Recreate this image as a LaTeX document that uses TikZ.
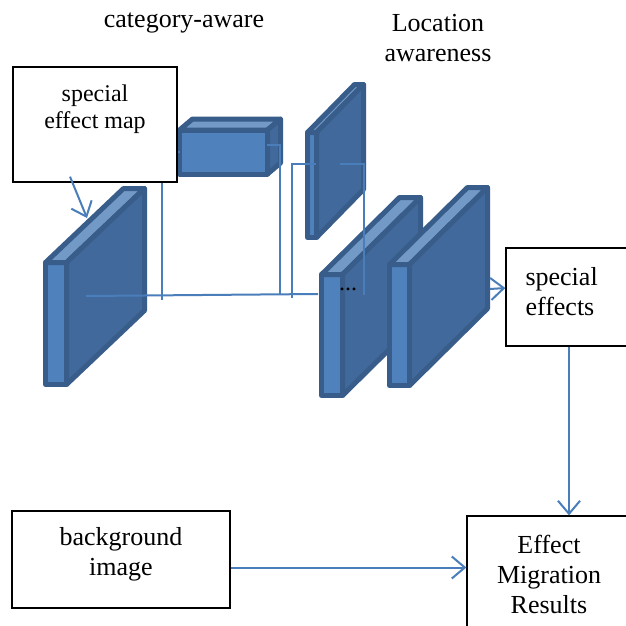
\documentclass[tikz,border=0pt]{standalone}
\usepackage{fontspec}
\setmainfont{Liberation Serif}
\usetikzlibrary{arrows.meta}

\definecolor{slabfront}{HTML}{4F81BD}
\definecolor{slabtop}{HTML}{7399C6}
\definecolor{slabside}{HTML}{41699B}
\definecolor{slabedge}{HTML}{385D8A}
\definecolor{wirecol}{HTML}{4A7EBB}

\tikzset{
  face/.style={draw=slabedge, line width=5pt, line join=round},
  wire/.style={draw=wirecol, line width=2pt},
  flow/.style={wire, -{Straight Barb[length=13pt,width=22pt]}},
  frame/.style={draw=black, line width=1.3pt, fill=white, inner sep=0pt},
  txt/.style={font=\fontsize{26}{30}\selectfont, align=center},
}

\begin{document}
\begin{tikzpicture}[x=1pt, y=-1pt]
  \useasboundingbox (0,0) rectangle (626,626);
  \clip (0,0) rectangle (626,626);
  \fill[white] (0,0) rectangle (626,626);

  % feature blocks: x/y of front corner, width, height, depth
  \foreach \x/\y/\w/\h/\dx/\dy in {45.5/262.5/21/122/78/-74,
      179.5/130/88/44/13/-11, 307.5/132.5/9/105/47/-48,
      321.5/274.5/21/121/78/-77, 389.5/264.5/20/121/78/-77} {
    \filldraw[face, fill=slabfront] (\x,\y) rectangle ++(\w,\h);
    \filldraw[face, fill=slabtop] (\x,\y) -- ++(\dx,\dy) -- ++(\w,0) -- ++(-\dx,-\dy) -- cycle;
    \filldraw[face, fill=slabside] (\x+\w,\y) -- ++(\dx,\dy) -- ++(0,\h) -- ++(-\dx,-\dy) -- cycle;
  }

  \coordinate (s1) at (86,296);
  \coordinate (s1top) at (87,218);
  \coordinate (s3) at (318,294);
  \coordinate (s4) at (490,289);

  % skip connections
  \draw[wire] (s1) -- (s3);
  \draw[wire] (162,300) -- (162,152) -- (180,152);
  \draw[wire] (267,145) -- (280,145) -- (280,294);
  \draw[wire] (292,298) -- (292,164) -- (316,164);
  \draw[wire] (340,164) -- (364,164) -- (364,295);

  \node[frame, minimum width=164pt, minimum height=115pt] (map) at (95,124.5) {};
  \node[frame, minimum width=180pt, minimum height=98pt] (fx) at (596,297) {};
  \node[frame, minimum width=218pt, minimum height=97pt] (bg) at (121,559.5) {};
  \node[frame, minimum width=180pt, minimum height=130pt] (res) at (557,581) {};

  \draw[flow] ([xshift=-25pt,yshift=6pt]map.south) -- (s1top);
  \draw[flow] (s4) -- ([yshift=9pt]fx.west);
  \draw[flow] ([xshift=-27pt]fx.south) -- ([xshift=-27pt]fx.south |- res.north);
  \draw[flow] ([yshift=-8pt]bg.east) -- ([yshift=-8pt]bg.east -| res.west);

  \node[txt] at (184,23) {category-aware};
  \node[txt] at (438,38) {Location\\awareness};
  \node[txt, font=\fontsize{24}{27}\selectfont] at (95,109) {special\\effect map};
  \node[txt, align=left, anchor=west] at (522,292) {special\\effects};
  \node[txt] at (121,554) {background\\image};
  \node[txt] at (549,574) {Effect\\Migration\\Results};
  \node[font=\fontsize{24}{24}\selectfont] at (348,289) {...};
\end{tikzpicture}
\end{document}
